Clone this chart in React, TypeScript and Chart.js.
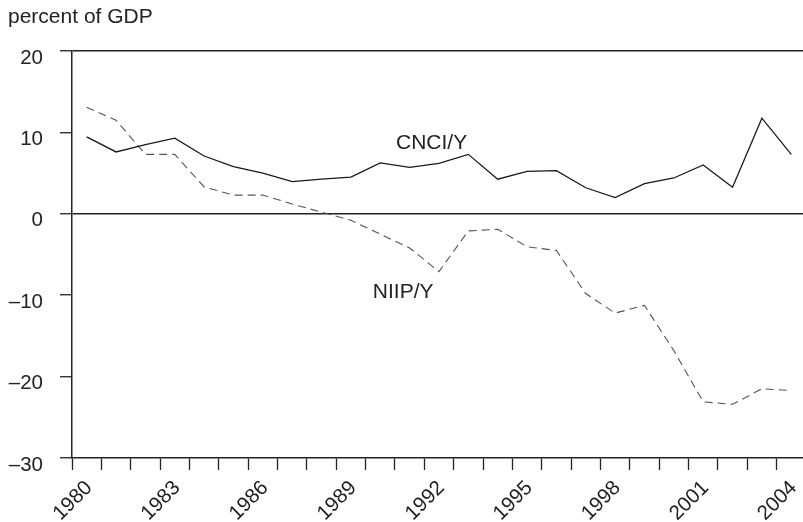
import React, { useEffect, useRef } from "react";
import { Chart, registerables } from "chart.js";

Chart.register(...registerables);

const years = [1980, 1981, 1982, 1983, 1984, 1985, 1986, 1987, 1988, 1989, 1990, 1991, 1992, 1993, 1994, 1995, 1996, 1997, 1998, 1999, 2000, 2001, 2002, 2003, 2004];
const cnciY = [9.45, 7.6, 8.5, 9.3, 7.1, 5.8, 5.0, 3.95, 4.25, 4.5, 6.25, 5.7, 6.2, 7.3, 4.25, 5.2, 5.3, 3.2, 2.0, 3.7, 4.4, 6.0, 3.25, 11.75, 7.3];
const niipY = [13.1, 11.5, 7.3, 7.3, 3.3, 2.3, 2.3, 1.2, 0.2, -0.8, -2.5, -4.2, -7.1, -2.1, -1.9, -4.05, -4.5, -9.8, -12.2, -11.25, -16.8, -23.1, -23.4, -21.5, -21.7];
const yTicks = [-30, -20, -10, 0, 10, 20];
const labeledYears = [1980, 1983, 1986, 1989, 1992, 1995, 1998, 2001, 2004];
const seriesLabels = ["CNCI/Y", "NIIP/Y"];
const seriesLabelAt = [
  { x: 1992.25, y: 8.7 },
  { x: 1991.28, y: -9.6 },
];
const yUnit = "percent of GDP";

const FONT = '"Liberation Sans", Arial, Helvetica, sans-serif';
const INK = "#222";

function fmt(v: number): string {
  return v < 0 ? "\u2013" + Math.abs(v) : String(v);
}

export default function App() {
  const ref = useRef<HTMLCanvasElement | null>(null);

  useEffect(() => {
    if (!ref.current) return;
    const textPlugin = {
      id: "texts",
      afterDraw(chart: any) {
        const ctx = chart.ctx;
        const xs = chart.scales.x;
        const ys = chart.scales.y;
        ctx.save();
        ctx.fillStyle = INK;
        ctx.font = `21px ${FONT}`;
        ctx.textAlign = "left";
        ctx.textBaseline = "alphabetic";
        ctx.fillText(yUnit, 8, 23);
        ctx.textAlign = "center";
        ctx.textBaseline = "middle";
        seriesLabels.forEach((t, i) => {
          const p = seriesLabelAt[i];
          ctx.fillText(t, xs.getPixelForValue(p.x), ys.getPixelForValue(p.y));
        });
        ctx.restore();
      },
    };

    const chart = new Chart(ref.current, {
      type: "line",
      data: {
        datasets: [
          {
            label: seriesLabels[0],
            data: years.map((yr, i) => ({ x: yr + 0.5, y: cnciY[i] })),
            borderColor: "#1a1a1a",
            borderWidth: 1.3,
            pointRadius: 0,
            tension: 0,
            fill: false,
          },
          {
            label: seriesLabels[1],
            data: years.map((yr, i) => ({ x: yr + 0.5, y: niipY[i] })),
            borderColor: "#555",
            borderWidth: 1.1,
            borderDash: [8, 5],
            pointRadius: 0,
            tension: 0,
            fill: false,
          },
        ],
      },
      options: {
        animation: false,
        responsive: false,
        maintainAspectRatio: false,
        layout: { padding: { top: 51, left: 0, right: 0, bottom: 0 } },
        plugins: {
          legend: { display: false },
          tooltip: { enabled: false },
          title: { display: false },
        },
        scales: {
          x: {
            type: "linear",
            min: 1980,
            max: 2004.9,
            afterBuildTicks: (scale: any) => {
              scale.ticks = years.map((v) => ({ value: v }));
            },
            afterFit: (scale: any) => {
              scale.height = 64;
            },
            grid: {
              drawOnChartArea: false,
              drawTicks: true,
              tickLength: 12,
              tickColor: INK,
              tickWidth: 1.3,
            },
            border: { display: true, color: INK, width: 1.5 },
            ticks: {
              autoSkip: false,
              maxRotation: 45,
              minRotation: 45,
              labelOffset: 17,
              padding: 6,
              color: INK,
              font: { family: FONT, size: 20.5 },
              callback: (v: any) => (labeledYears.includes(Number(v)) ? String(v) : ""),
            },
          },
          y: {
            type: "linear",
            min: -30,
            max: 20,
            afterBuildTicks: (scale: any) => {
              scale.ticks = yTicks.map((v) => ({ value: v }));
            },
            afterFit: (scale: any) => {
              scale.width = 72;
            },
            grid: {
              drawOnChartArea: true,
              drawTicks: true,
              tickLength: 12,
              tickColor: INK,
              tickWidth: 1.3,
              lineWidth: 1.5,
              color: (c: any) =>
                c.tick && (c.tick.value === 0 || c.tick.value === 20) ? INK : "rgba(0,0,0,0)",
            },
            border: { display: true, color: INK, width: 1.5 },
            ticks: {
              padding: 17,
              labelOffset: 7,
              color: INK,
              font: { family: FONT, size: 20.5 },
              callback: (v: any) => fmt(Number(v)),
            },
          },
        },
      },
      plugins: [textPlugin],
    });
    return () => chart.destroy();
  }, []);

  return (
    <div style={{ position: "fixed", left: 0, top: 0, width: 803, height: 522, background: "#fff" }}>
      <canvas ref={ref} width={803} height={522} style={{ display: "block", width: 803, height: 522 }} />
    </div>
  );
}
